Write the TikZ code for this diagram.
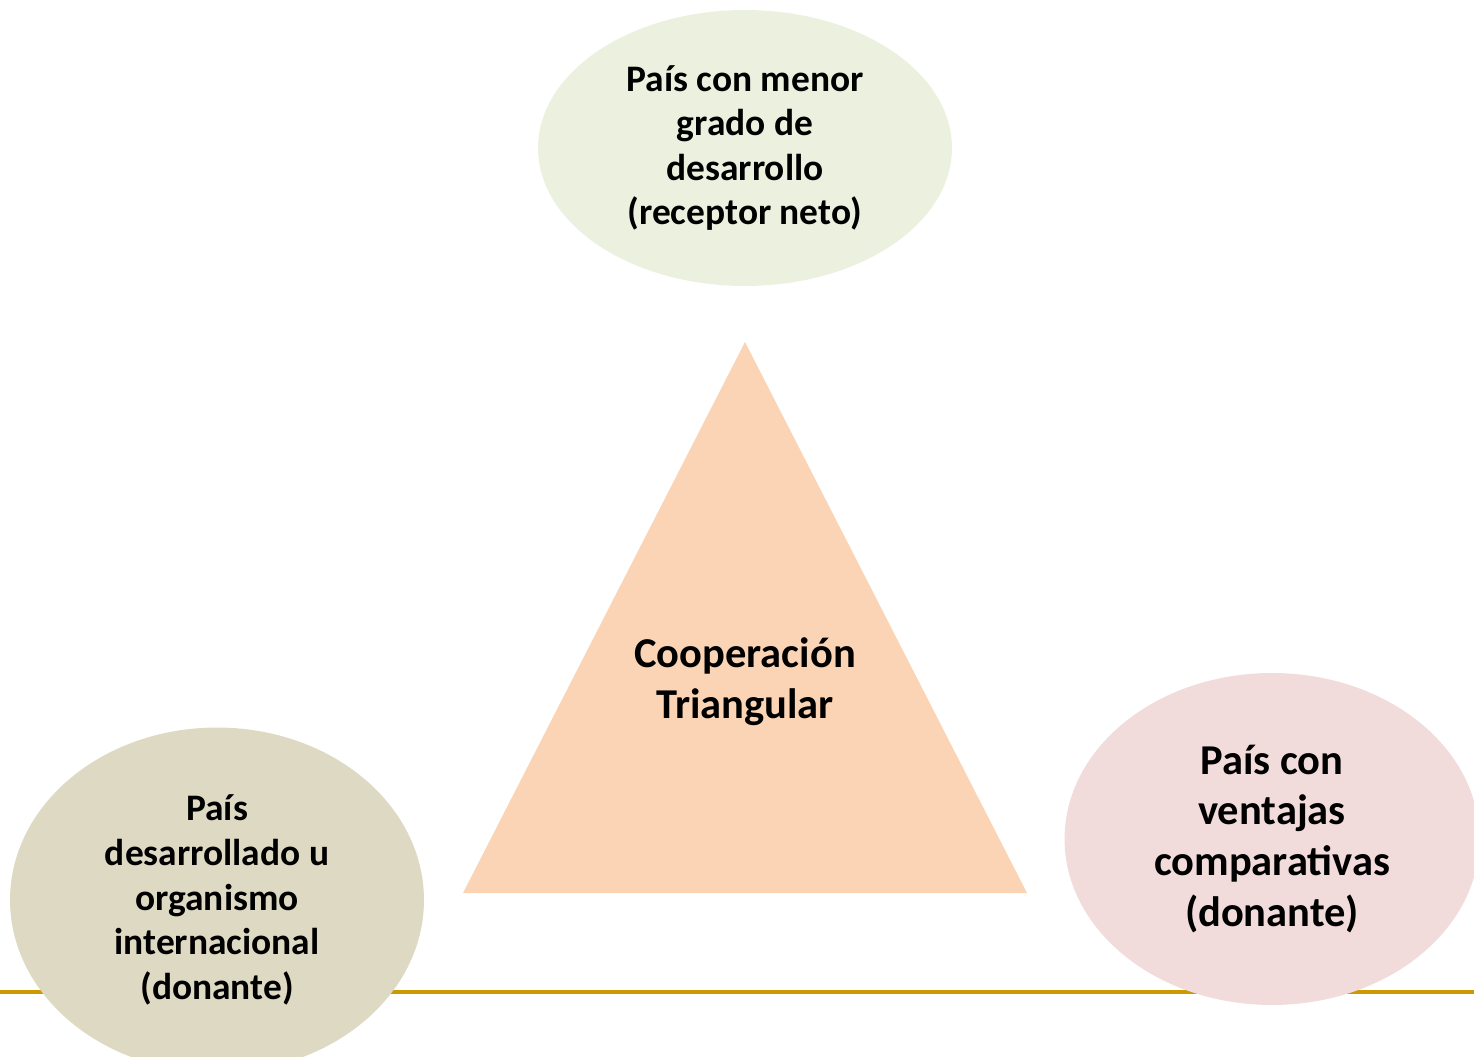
\documentclass[tikz,border=0pt]{standalone}
\usepackage{fontspec}
\setmainfont{Carlito}
\usetikzlibrary{shapes.geometric}
\definecolor{recvgreen}{HTML}{EBF1DE}
\definecolor{donorkhaki}{HTML}{DDD9C3}
\definecolor{donorpink}{HTML}{F2DCDB}
\definecolor{tripeach}{HTML}{FAD4B4}
\definecolor{rulegold}{HTML}{CC9900}
\tikzset{
  actor/.style={ellipse, inner sep=0pt, align=center, font=\bfseries\fontsize{21.3}{25.4}\selectfont,
    minimum width=8.28cm},
  bigtext/.style={align=center, font=\bfseries\fontsize{24.2}{29}\selectfont}
}
\begin{document}
\begin{tikzpicture}[x=0.02cm, y=-0.02cm]
\useasboundingbox (0,0) rectangle (1474,1057);
\draw[rulegold, line width=0.08cm] (0,992) -- (1474,992);
\fill[tripeach] (745,342) -- (1027,893) -- (463,893) -- cycle;
\node[bigtext] (coop) at (745,682) {Cooperación\\Triangular};
\node[actor, fill=recvgreen, minimum height=5.52cm] (recv) at (745,148) {País con menor\\grado de\\desarrollo\\(receptor neto)};
\node[actor, fill=donorkhaki, minimum height=6.9cm] (north) at (217,900) {País\\desarrollado u\\organismo\\internacional\\(donante)};
\node[actor, fill=donorpink, minimum height=6.64cm, minimum width=8.3cm, bigtext] (south) at (1272,839) {País con\\ventajas\\comparativas\\(donante)};
\end{tikzpicture}
\end{document}
